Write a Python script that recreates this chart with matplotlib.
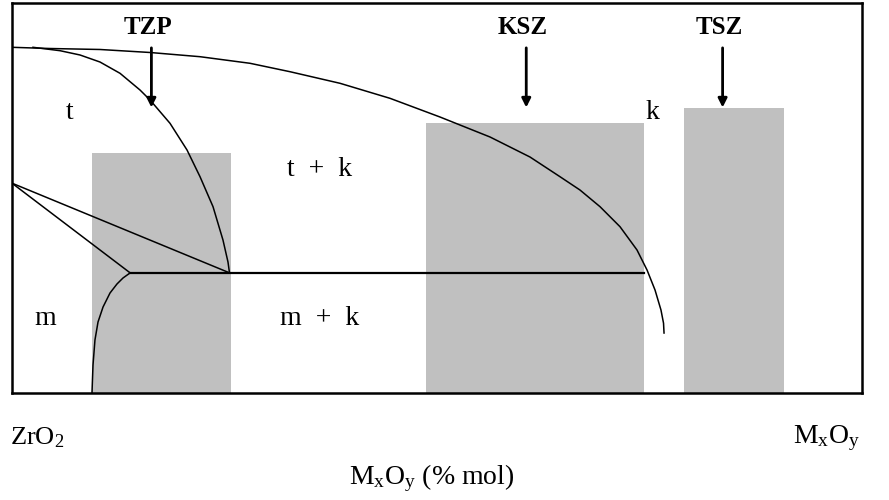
import matplotlib.pyplot as plt
from matplotlib.patches import Rectangle

plt.rcParams['font.family'] = ['Liberation Serif', 'DejaVu Serif']
plt.rcParams['mathtext.fontset'] = 'custom'
plt.rcParams['mathtext.rm'] = 'Liberation Serif'
plt.rcParams['mathtext.it'] = 'Liberation Serif:italic'

# composition (% mol MxOy) vs. temperature (relative units)
zonas = ['TZP', 'KSZ', 'TSZ']
zona_x0 = [9.4, 48.7, 79.1]
zona_x1 = [25.8, 74.4, 90.8]
zona_topo = [61.5, 69.2, 73.1]
zona_seta_x = [16.4, 60.5, 83.6]

# solvus k / t+k
sup_x = [0.0, 4.47, 10.35, 16.24, 22.12, 28.0, 32.71, 38.59, 44.47, 50.35, 56.24,
         60.94, 64.47, 66.82, 69.18, 71.53, 73.53, 74.71, 75.65, 76.35, 76.65, 76.71]
sup_y = [88.64, 88.33, 88.08, 87.31, 86.23, 84.54, 82.38, 79.41, 75.56, 70.77, 65.64,
         60.51, 55.46, 52.05, 47.77, 42.64, 36.67, 31.54, 26.41, 21.28, 17.9, 15.38]

# t / t+k boundary
tzp_x = [2.47, 5.65, 8.0, 10.35, 12.71, 15.06, 16.24, 18.59, 20.59, 22.12, 23.65,
         24.82, 25.41, 25.59]
tzp_y = [88.64, 87.77, 86.67, 84.87, 81.97, 77.69, 75.13, 69.15, 62.31, 55.46, 47.77,
         39.23, 33.59, 30.77]

# m / m+k boundary
m_x = [9.41, 9.53, 9.76, 10.12, 10.71, 11.53, 12.35, 13.06, 13.88]
m_y = [0.0, 7.18, 13.59, 18.21, 22.05, 25.64, 27.95, 29.49, 30.77]

# eutectoid line and martensitic lines
eut_x = [13.9, 74.4]
eut_y = [30.8, 30.8]
mart_origem = (0.0, 53.8)
mart_fim_x = [13.9, 25.6]

fig = plt.figure(figsize=(8.89, 5.0), dpi=100)
ax = fig.add_axes([12 / 889, 107 / 500, 850 / 889, 390 / 500])
ax.set_xlim(0, 100)
ax.set_ylim(0, 100)
ax.set_xticks([])
ax.set_yticks([])
for s in ax.spines.values():
    s.set_linewidth(1.8)

for x0, x1, top in zip(zona_x0, zona_x1, zona_topo):
    ax.add_patch(Rectangle((x0, 0), x1 - x0, top, facecolor='#c0c0c0',
                           edgecolor='none', zorder=1))

ax.plot(sup_x, sup_y, color='black', lw=1.1, zorder=3)
ax.plot(tzp_x, tzp_y, color='black', lw=1.1, zorder=3)
ax.plot(m_x, m_y, color='black', lw=1.1, zorder=3)
ax.plot(eut_x, eut_y, color='black', lw=1.6, zorder=3)
for xf in mart_fim_x:
    ax.plot([mart_origem[0], xf], [mart_origem[1], eut_y[0]], color='black',
            lw=1.1, zorder=3)

for nome, xs, top in zip(zonas, zona_seta_x, zona_topo):
    ax.annotate('', xy=(xs, 73.2), xytext=(xs, 88.5),
                arrowprops=dict(arrowstyle='-|>', color='black', lw=2.0,
                                mutation_scale=13, shrinkA=0, shrinkB=0),
                zorder=4)
    ax.text(xs - 0.4, 93.6, nome, ha='center', va='center', fontsize=18,
            fontweight='bold')

fs = 20
ax.text(6.8, 72, 't', ha='center', va='center', fontsize=fs)
ax.text(36.2, 57.2, 't  +  k', ha='center', va='center', fontsize=fs)
ax.text(75.3, 72, 'k', ha='center', va='center', fontsize=fs)
ax.text(3.9, 19.2, 'm', ha='center', va='center', fontsize=fs)
ax.text(36.2, 19.2, 'm  +  k', ha='center', va='center', fontsize=fs)

fig.text(10 / 889, 1 - 438 / 500, r'$\mathrm{ZrO_2}$', ha='left', va='center', fontsize=19)
fig.text(860 / 889, 1 - 438 / 500, r'$\mathrm{M_xO_y}$', ha='right', va='center', fontsize=20)
fig.text(432 / 889, 1 - 478 / 500, r'$\mathrm{M_xO_y}$ (% mol)', ha='center', va='center', fontsize=20)

fig.savefig('out.png', dpi=100)
